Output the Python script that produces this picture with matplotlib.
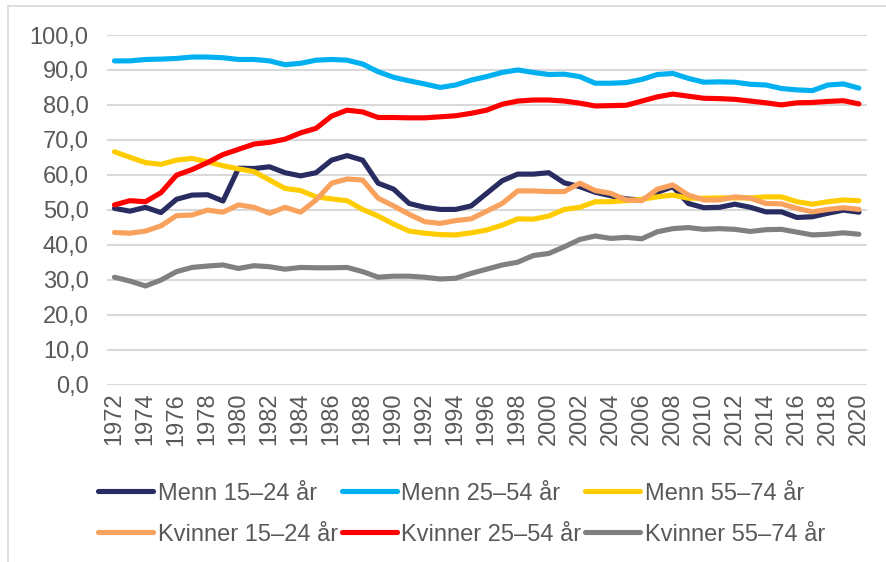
import matplotlib.pyplot as plt
from matplotlib.patches import Rectangle

years = list(range(1972, 2021))

menn_15_24 = [50.4, 49.6, 50.7, 49.2, 53.0, 54.2, 54.3, 52.5, 61.9, 61.8,
              62.3, 60.6, 59.7, 60.6, 64.2, 65.5, 64.2, 57.6, 55.9, 51.8,
              50.7, 50.1, 50.1, 51.1, 54.7, 58.3, 60.2, 60.2, 60.6, 57.7,
              56.6, 55.0, 54.0, 53.1, 52.8, 55.0, 56.6, 51.8, 50.6, 50.7,
              51.6, 50.7, 49.4, 49.4, 47.8, 48.0, 49.0, 49.9, 49.3]
menn_25_54 = [92.6, 92.6, 93.0, 93.1, 93.3, 93.7, 93.7, 93.5, 93.0, 93.0,
              92.6, 91.5, 91.9, 92.8, 93.0, 92.8, 91.7, 89.5, 87.9, 86.9,
              86.0, 85.0, 85.7, 87.1, 88.1, 89.3, 90.0, 89.3, 88.7, 88.8,
              88.1, 86.2, 86.2, 86.4, 87.3, 88.7, 89.0, 87.6, 86.5, 86.6,
              86.5, 85.9, 85.7, 84.7, 84.3, 84.1, 85.7, 86.0, 84.8]
menn_55_74 = [66.6, 65.0, 63.5, 63.0, 64.2, 64.7, 63.7, 62.6, 61.7, 60.9,
              58.5, 56.1, 55.5, 53.7, 53.1, 52.6, 50.1, 48.2, 45.9, 43.9,
              43.3, 42.9, 42.8, 43.4, 44.2, 45.6, 47.4, 47.3, 48.2, 50.1,
              50.7, 52.3, 52.3, 52.6, 53.0, 53.7, 54.2, 53.3, 53.3, 53.4,
              53.4, 53.4, 53.7, 53.7, 52.3, 51.6, 52.3, 52.8, 52.6]
kvinner_15_24 = [43.5, 43.3, 43.9, 45.4, 48.3, 48.5, 49.9, 49.3, 51.4, 50.7,
                 49.0, 50.7, 49.3, 52.8, 57.6, 58.8, 58.5, 53.3, 51.1, 48.7,
                 46.6, 46.1, 46.9, 47.4, 49.6, 51.8, 55.4, 55.4, 55.2, 55.2,
                 57.6, 55.5, 54.7, 52.8, 52.6, 55.9, 57.1, 54.2, 52.8, 52.8,
                 53.7, 53.3, 51.8, 51.7, 50.4, 49.4, 50.1, 50.6, 50.1]
kvinner_25_54 = [51.4, 52.6, 52.3, 54.9, 59.9, 61.5, 63.5, 65.8, 67.3, 68.8,
                 69.3, 70.2, 72.0, 73.3, 76.8, 78.5, 78.0, 76.4, 76.4, 76.3,
                 76.3, 76.6, 76.9, 77.6, 78.5, 80.2, 81.1, 81.4, 81.4, 81.1,
                 80.5, 79.7, 79.8, 79.9, 81.1, 82.3, 83.1, 82.5, 81.9, 81.8,
                 81.6, 81.1, 80.6, 80.0, 80.6, 80.7, 81.0, 81.2, 80.3]
kvinner_55_74 = [30.7, 29.6, 28.2, 29.9, 32.3, 33.5, 33.9, 34.2, 33.2, 34.0,
                 33.7, 33.0, 33.5, 33.4, 33.4, 33.5, 32.3, 30.7, 31.0, 31.0,
                 30.7, 30.2, 30.4, 31.8, 33.0, 34.2, 35.0, 36.9, 37.5, 39.4,
                 41.5, 42.5, 41.8, 42.1, 41.7, 43.7, 44.6, 44.9, 44.4, 44.6,
                 44.4, 43.8, 44.3, 44.4, 43.6, 42.8, 43.0, 43.4, 43.0]

series = [
    ("Menn 15–24 år", menn_15_24, "#282C61"),
    ("Menn 25–54 år", menn_25_54, "#00B0F0"),
    ("Menn 55–74 år", menn_55_74, "#FFCC00"),
    ("Kvinner 15–24 år", kvinner_15_24, "#F9A25E"),
    ("Kvinner 25–54 år", kvinner_25_54, "#FF0000"),
    ("Kvinner 55–74 år", kvinner_55_74, "#808080"),
]

plt.rcParams['font.family'] = ['Liberation Sans', 'DejaVu Sans']
text_col = "#595959"

fig = plt.figure(figsize=(8.87, 5.62), dpi=100)
fig.patches.append(Rectangle((8 / 887, -0.1), 1.2, 1.1 - 6 / 562, transform=fig.transFigure,
                             fill=False, edgecolor="#D9D9D9", linewidth=1.2))
ax = fig.add_axes([0.1203, 0.3158, 0.8568, 0.6219])

x = list(range(len(years)))
lines = {}
for name, vals, col in series:
    lines[name], = ax.plot(x, vals, color=col, linewidth=3.7, label=name,
                           solid_capstyle='round', solid_joinstyle='round')

ax.set_ylim(0, 100)
ax.set_xlim(-0.5, len(years) - 0.5)
ax.set_yticks(range(0, 101, 10))
ax.set_yticklabels([f"{v},0" for v in range(0, 101, 10)])
ax.set_xticks(x[::2])
ax.set_xticklabels([str(y) for y in years[::2]], rotation=90)
ax.grid(axis='y', color="#D9D9D9", linewidth=1.5)
ax.set_axisbelow(True)
for s in ax.spines.values():
    s.set_visible(False)
ax.tick_params(axis='both', length=0, colors=text_col, labelsize=17)
ax.tick_params(axis='y', pad=13)
ax.tick_params(axis='x', pad=6)

order = ["Menn 15–24 år", "Kvinner 15–24 år", "Menn 25–54 år",
         "Kvinner 25–54 år", "Menn 55–74 år", "Kvinner 55–74 år"]
fig.legend([lines[n] for n in order], order, loc='upper left',
           bbox_to_anchor=(0.0975, 0.162), ncol=3, frameon=False, borderpad=0,
           fontsize=17, labelcolor=text_col, handlelength=2.33, handletextpad=0.2,
           columnspacing=0.15, labelspacing=0.8)

fig.savefig("out.png", dpi=100)
